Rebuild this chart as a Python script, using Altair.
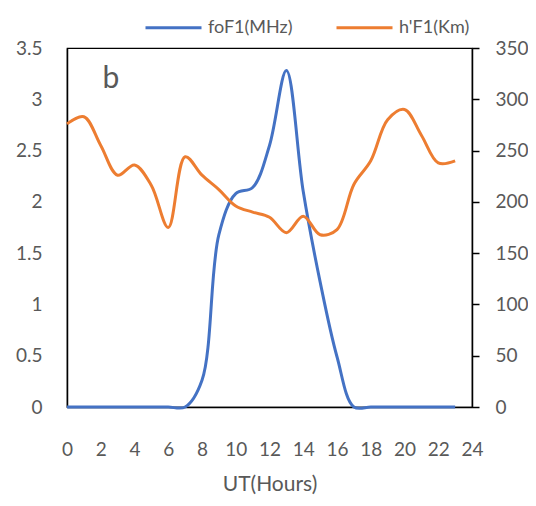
import altair as alt
import pandas as pd

hours = list(range(24))
fof1 = [0, 0, 0, 0, 0, 0, 0, 0, 0.26, 1.68, 2.08, 2.14, 2.55, 3.28, 2.10, 1.22, 0.49, 0, 0, 0, 0, 0, 0, 0]
hf1 = [276, 283, 255, 226, 236, 216, 175, 244, 226, 212, 196, 190, 185, 170, 186, 168, 173, 217, 240, 280, 290, 265, 238, 240]

series_names = ["foF1(MHz)", "h'F1(Km)"]
series_colors = ["#4472C4", "#ED7D31"]

label_text = ["b"]
label_x = [2.6]
label_y = [3.2]

df_b = pd.DataFrame({"UT": hours, "foF1": fof1, "series": series_names[0]})
df_o = pd.DataFrame({"UT": hours, "hF1": hf1, "series": series_names[1]})
df_lab = pd.DataFrame({"UT": label_x, "foF1": label_y, "t": label_text})

FONT = "Lato"
GREY = "#595959"

color_scale = alt.Scale(domain=series_names, range=series_colors)
legend = alt.Legend(orient="none", legendX=77, legendY=-50,
                    direction="horizontal", title=None,
                    symbolType="stroke", symbolSize=3136,
                    symbolStrokeWidth=3, labelFontSize=18,
                    labelColor=GREY, labelFont=FONT,
                    columnPadding=37, labelOffset=5)

x_axis = alt.Axis(values=list(range(0, 25, 2)), ticks=False, labelPadding=33,
                  labelOverlap=False, labelBound=False, labelFlush=False,
                  title="UT(Hours)", titlePadding=14, grid=False)
x_enc = alt.X("UT:Q", scale=alt.Scale(domain=[0, 24], nice=False), axis=x_axis)

blue = alt.Chart(df_b).mark_line(interpolate="catmull-rom", strokeWidth=3).encode(
    x=x_enc,
    y=alt.Y("foF1:Q", scale=alt.Scale(domain=[0, 3.5], nice=False),
            axis=alt.Axis(values=[0, 0.5, 1, 1.5, 2, 2.5, 3, 3.5], ticks=False,
                          format="~g", labelOverlap=False, labelFlush=False,
                          labelPadding=25, title=None, grid=False, orient="left")),
    color=alt.Color("series:N", scale=color_scale, legend=legend),
)

btext = alt.Chart(df_lab).mark_text(fontSize=30, color=GREY, font=FONT).encode(
    x=x_enc,
    y=alt.Y("foF1:Q", scale=alt.Scale(domain=[0, 3.5], nice=False)),
    text="t:N",
)

left = alt.layer(blue, btext)

orange = alt.Chart(df_o).mark_line(interpolate="catmull-rom", strokeWidth=3).encode(
    x=x_enc,
    y=alt.Y("hF1:Q", scale=alt.Scale(domain=[0, 350], nice=False),
            axis=alt.Axis(values=list(range(0, 351, 50)), ticks=True, tickSize=7,
                          tickColor="black", tickWidth=1.5,
                          labelOverlap=False, labelFlush=False,
                          labelPadding=16, title=None, grid=False, orient="right")),
    color=alt.Color("series:N", scale=color_scale, legend=legend),
)

chart = alt.layer(left, orange).resolve_scale(y="independent").properties(
    width=405, height=359,
    autosize=alt.AutoSizeParams(type="none"),
    padding={"left": 59, "top": 40, "right": 56, "bottom": 91},
).configure_view(stroke="black", strokeWidth=1.2).configure_axis(
    labelFont=FONT, labelFontSize=19, labelColor=GREY,
    titleFont=FONT, titleFontSize=21, titleColor=GREY, titleFontWeight="normal",
    domainColor="black", domainWidth=1.5,
).configure_axisX(labelOverlap=False)

chart.save("out.html", embed_options={"renderer": "svg", "actions": False})
